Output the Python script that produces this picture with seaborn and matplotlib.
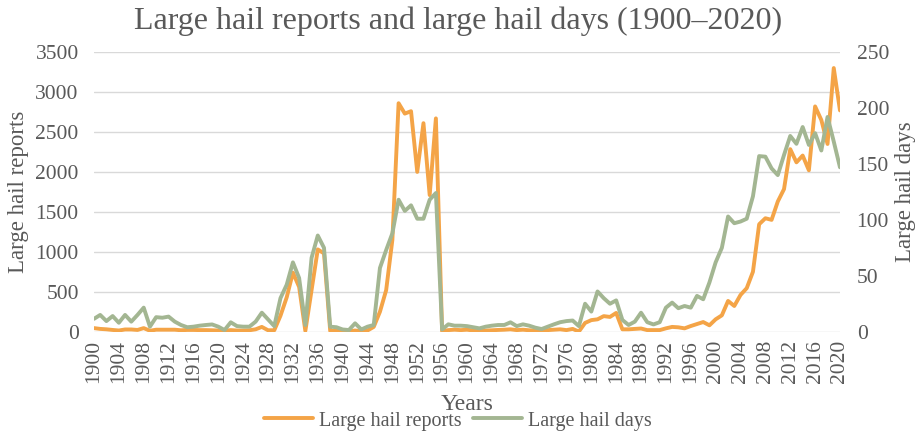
import seaborn as sns
import matplotlib.pyplot as plt
from matplotlib.ticker import MultipleLocator
import pandas as pd

# =========================================================
# Data
# =========================================================

years = list(range(1900, 2021))

hail_reports = [
    45, 35, 30, 22, 15, 28, 28, 22, 45, 12,          # 1900-1909
    25, 25, 25, 25, 18, 22, 22, 20, 20, 18,          # 1910-1919
    15, 12, 20, 15, 15, 18, 30, 60, 18, 18,          # 1920-1929
    200, 430, 740, 560, 10, 520, 1030, 980, 10, 15,  # 1930-1939
    5, 2, 15, 5, 15, 60, 250, 520, 1150, 2860,       # 1940-1949
    2730, 2760, 2000, 2610, 1710, 2670, 5, 20, 25, 20,  # 1950-1959
    25, 15, 12, 15, 18, 22, 25, 30, 20, 25,          # 1960-1969
    18, 15, 12, 20, 25, 30, 20, 35, 2, 110,          # 1970-1979
    145, 155, 195, 185, 235, 30, 30, 35, 40, 20,     # 1980-1989
    20, 20, 42, 60, 55, 42, 71, 96, 121, 80,         # 1990-1999
    155, 205, 385, 322, 460, 545, 750, 1345, 1420, 1400,  # 2000-2009
    1630, 1785, 2285, 2120, 2205, 2020, 2820, 2650, 2350, 3300,  # 2010-2019
    2770,                                            # 2020
]

hail_days = [
    11.5, 15, 9.5, 14, 8, 15, 9, 15, 21.5, 4.5,      # 1900-1909
    13, 12.5, 13.5, 9, 6, 4, 4.5, 5.4, 6, 6.5,       # 1910-1919
    4.5, 1.5, 8.4, 5, 4.5, 4.5, 9, 17, 11, 5,        # 1920-1929
    30, 42, 62, 48, 6, 66, 86, 75, 4.5, 4,           # 1930-1939
    2, 1.5, 7.5, 2, 4.5, 6, 57, 73, 88, 118,         # 1940-1949
    108, 113, 101, 101, 118, 124, 2, 6.6, 5.4, 5.4,  # 1950-1959
    5, 4, 3, 4.5, 5.4, 6, 6, 8.4, 5, 6.6,            # 1960-1969
    5.4, 3.6, 2.4, 4.5, 6.6, 8.5, 9.5, 10, 5, 25,    # 1970-1979
    18, 36, 30, 25, 28, 10.5, 6, 9, 17, 8.5,         # 1980-1989
    6.5, 8.5, 21.5, 26, 21, 23, 21.5, 32, 29, 44,    # 1990-1999
    62, 75, 103, 97, 98.5, 101, 121, 157, 156.5, 146,  # 2000-2009
    140, 158, 175, 168, 183, 167, 177.5, 162, 192, 170,  # 2010-2019
    147,                                             # 2020
]

df = pd.DataFrame({"year": years, "reports": hail_reports, "days": hail_days})

# =========================================================
# Style
# =========================================================

sns.set_style("white")
plt.rcParams["font.family"] = ["Liberation Serif", "DejaVu Serif"]

text_grey = "#595959"
orange = "#F4A447"
green = "#A3B692"

fig = plt.figure(figsize=(9.16, 4.34), dpi=100)
ax = fig.add_axes([0.1026, 0.2357, 0.8144, 0.6443])
ax2 = ax.twinx()

# =========================================================
# Lines
# =========================================================

sns.lineplot(data=df, x="year", y="reports", ax=ax, color=orange,
             linewidth=2.8, label="Large hail reports", legend=False)
sns.lineplot(data=df, x="year", y="days", ax=ax2, color=green,
             linewidth=2.8, label="Large hail days", legend=False)

ax.set_xlim(1900, 2020)
ax.set_ylim(0, 3500)
ax2.set_ylim(0, 250)
ax.yaxis.set_major_locator(MultipleLocator(500))
ax2.yaxis.set_major_locator(MultipleLocator(50))
ax.set_xticks(years[::4])
ax.tick_params(axis="x", labelrotation=90)

ax.grid(axis="y", color="#D9D9D9", linewidth=1.0)
ax.set_axisbelow(True)

for a in (ax, ax2):
    for s in a.spines.values():
        s.set_visible(False)
    a.tick_params(length=0, labelsize=15.5, labelcolor=text_grey)
ax.tick_params(axis="y", pad=11)
ax2.tick_params(axis="y", pad=12)
ax.tick_params(axis="x", pad=6)

ax.set_xlabel("Years", fontsize=17, color=text_grey)
ax.xaxis.set_label_coords(0.5, -0.222)
ax.set_ylabel("Large hail reports", fontsize=16.5, color=text_grey)
ax.yaxis.set_label_coords(-0.087, 0.5)
ax2.set_ylabel("Large hail days", fontsize=16.5, color=text_grey)
ax2.yaxis.set_label_coords(1.074, 0.5)

fig.suptitle("Large hail reports and large hail days (1900\u20132020)",
             fontsize=23, color=text_grey, y=0.952, va="center")

h1, l1 = ax.get_legend_handles_labels()
h2, l2 = ax2.get_legend_handles_labels()
fig.legend(h1 + h2, l1 + l2, loc="center", ncol=2, frameon=False,
           bbox_to_anchor=(0.5, 0.03), fontsize=14.5, handlelength=2.4,
           handletextpad=0.3, columnspacing=0.6, labelcolor=text_grey,
           borderaxespad=0, borderpad=0)

plt.savefig("out.png", dpi=100)
